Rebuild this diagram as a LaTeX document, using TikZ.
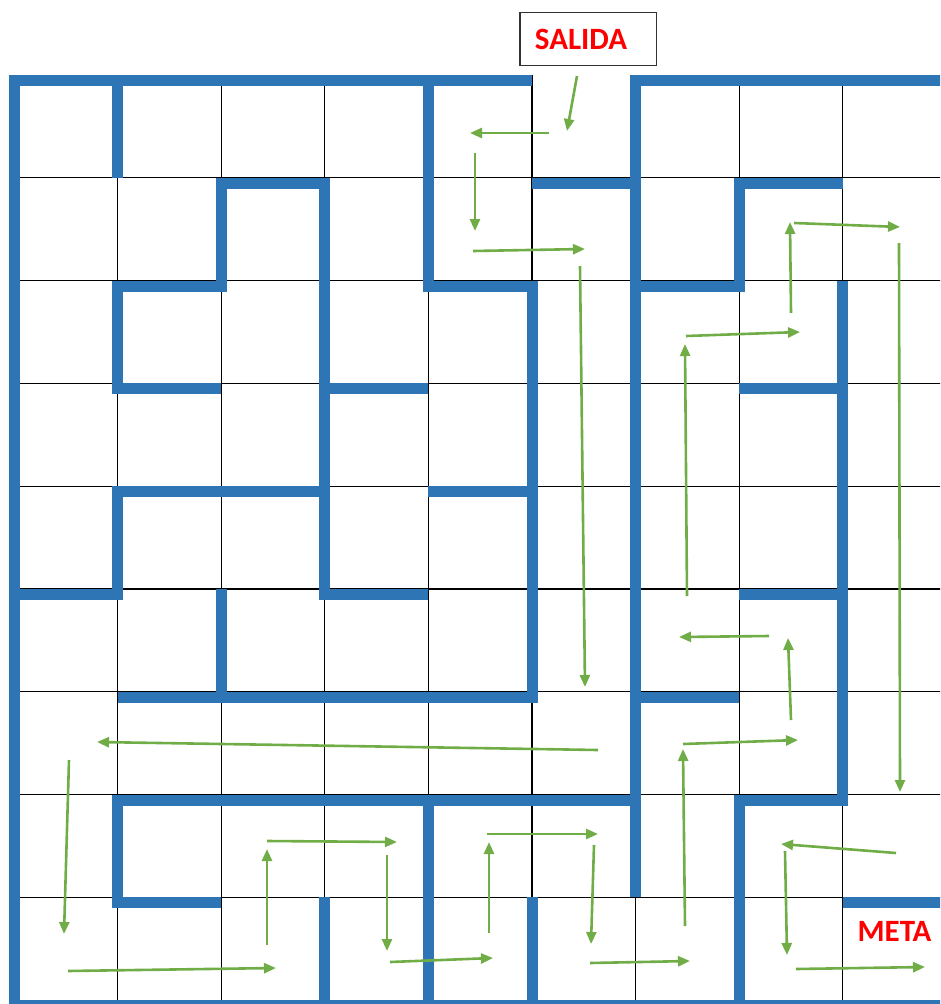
\documentclass[tikz,border=0pt]{standalone}
\usepackage{fontspec}
\newfontfamily\lblfont{Carlito}[BoldFont={Carlito Bold}]
\usetikzlibrary{arrows.meta}
\definecolor{wallblue}{RGB}{46,117,182}
\definecolor{pathgreen}{RGB}{112,173,71}
\begin{document}
\begin{tikzpicture}[x=1pt,y=-1pt,
  wall/.style={draw=wallblue, line width=11pt, line join=miter},
  gridline/.style={draw=black, line width=1.3pt},
  route/.style={draw=pathgreen, line width=2.6pt, -{Triangle[length=12pt,width=10pt]}},
  tag/.style={font=\lblfont\bfseries\fontsize{31}{32}\selectfont, text=red, inner sep=0pt}]
\useasboundingbox (0,0) rectangle (940,1004);
\clip (0,0) rectangle (940,1004);
% thin grid
\begin{scope}[shift={(14,75)}, x=103.6pt, y=-102.8pt]
  \foreach \i in {1,...,8} \draw[gridline] (\i,0) -- (\i,9);
  \foreach \j in {1,...,8} \draw[gridline] (0,\j) -- (9.2,\j);
\end{scope}
% walls
\begin{scope}[shift={(14,80.5)}, x=103.6pt, y=-102.8pt]
  \draw[wall] (5,0) -- (0,0) -- (0,9) -- (9.2,9);
  \draw[wall] (9.2,0) -- (6,0) -- (6,7.946);
  \draw[wall] (1,0) -- (1,0.946);
  \draw[wall] (4,0) -- (4,2) -- (5,2) -- (5,6) -- (1,6);
  \draw[wall] (2,3) -- (1,3) -- (1,2) -- (2,2) -- (2,1) -- (3,1) -- (3,5) -- (4,5);
  \draw[wall] (3,3) -- (4,3);
  \draw[wall] (3,4) -- (1,4) -- (1,5) -- (0,5);
  \draw[wall] (4,4) -- (5,4);
  \draw[wall] (2,4.946) -- (2,6);
  \draw[wall] (5,1) -- (6,1);
  \draw[wall] (8,1) -- (7,1) -- (7,2) -- (6,2);
  \draw[wall] (8,1.946) -- (8,7) -- (7,7) -- (7,9);
  \draw[wall] (7,3) -- (8,3);
  \draw[wall] (7,5) -- (8,5);
  \draw[wall] (6,6) -- (7,6);
  \draw[wall] (6,7) -- (1,7) -- (1,8) -- (2,8);
  \draw[wall] (4,7) -- (4,9);
  \draw[wall] (3,7.946) -- (3,9);
  \draw[wall] (5,7.946) -- (5,9);
  \draw[wall] (8,8) -- (9.2,8);
\end{scope}
% labels
\node[tag, draw=black!80, line width=1.5pt, minimum width=136.5pt, minimum height=53pt] (salida) at (588,39) {SALIDA\hspace{14pt}\null};
\node[tag] (meta) at (894.5,931) {META};
% route
\draw[route] (577,76) -- (567,131);
\draw[route] (549,133) -- (470,133);
\draw[route] (475,153) -- (475,231);
\draw[route] (473,251) -- (585,249);
\draw[route] (580,266) -- (585,687);
\draw[route] (791,313) -- (790,222);
\draw[route] (794,223) -- (900,227);
\draw[route] (899,243) -- (900,792);
\draw[route] (686,336) -- (800,332);
\draw[route] (687,596) -- (685,344);
\draw[route] (769,636) -- (679,637);
\draw[route] (791,720) -- (788,638);
\draw[route] (683,744) -- (798,740);
\draw[route] (685,926) -- (683,749);
\draw[route] (598,750) -- (97,742);
\draw[route] (69,760) -- (64,934);
\draw[route] (68,971) -- (276,968);
\draw[route] (267,945) -- (267,849);
\draw[route] (267,841) -- (397,842);
\draw[route] (387,855) -- (387,951);
\draw[route] (390,962) -- (493,958);
\draw[route] (489,933) -- (489,842);
\draw[route] (487,834) -- (598,834);
\draw[route] (594,845) -- (591,944);
\draw[route] (590,963) -- (690,961);
\draw[route] (896,853) -- (781,844);
\draw[route] (785,851) -- (787,955);
\draw[route] (796,969) -- (925,967);
\end{tikzpicture}
\end{document}
